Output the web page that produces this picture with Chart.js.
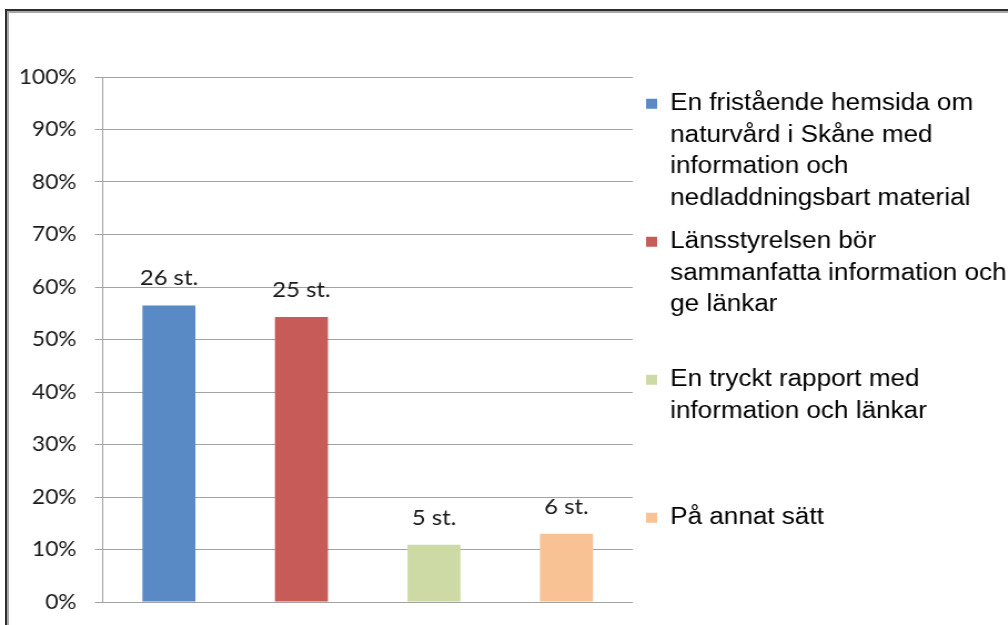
<!DOCTYPE html>
<html>
<head>
<meta charset="utf-8">
<script src="https://cdn.jsdelivr.net/npm/chart.js@4"></script>
<style>
  html, body { margin: 0; padding: 0; background: #fff; width: 1008px; height: 625px; overflow: hidden; }
  #frame {
    position: absolute; left: 5px; top: 9px; width: 1100px; height: 700px;
    border: 2px solid #2e2e2e; box-shadow: inset 2px 2px 0 #a8a8a8;
  }
  /* the original picture is a bit stretched sideways, so the chart is too */
  #wrap {
    position: absolute; left: 0; top: 0; width: 910px; height: 644px;
    transform: scaleX(1.11); transform-origin: 0 0;
  }
</style>
</head>
<body>
<div id="frame"></div>
<div id="wrap"><canvas id="svar"></canvas></div>
<script>
const categories = [
  'En fristående hemsida om naturvård i Skåne med information och nedladdningsbart material',
  'Länsstyrelsen bör sammanfatta information och ge länkar',
  'En tryckt rapport med information och länkar',
  'På annat sätt'
];
// legend text, broken the way the original wraps it
const legendLines = [
  ['En fristående hemsida om', 'naturvård i Skåne med', 'information och', 'nedladdningsbart material'],
  ['Länsstyrelsen bör', 'sammanfatta information och', 'ge länkar'],
  ['En tryckt rapport med', 'information och länkar'],
  ['På annat sätt']
];
const percentages = [56.5, 54.3, 10.9, 13.0];
const counts = [26, 25, 5, 6];
const barColors = ['#5a8ac6', '#c75b58', '#cddaa5', '#f9c294'];
const yTicks = [0, 10, 20, 30, 40, 50, 60, 70, 80, 90, 100];

const gridGrey = '#a3a3a3';

// "26 st." etc over the bars
const countLabels = {
  id: 'countLabels',
  afterDatasetsDraw(chart) {
    const ctx = chart.ctx;
    const meta = chart.getDatasetMeta(0);
    ctx.save();
    ctx.font = '21.5px Lato';
    ctx.fillStyle = '#1a1a1a';
    ctx.textAlign = 'center';
    ctx.textBaseline = 'middle';
    meta.data.forEach((bar, i) => ctx.fillText(counts[i] + ' st.', bar.x, bar.y - 27));
    ctx.restore();
  }
};

new Chart(document.getElementById('svar'), {
  type: 'bar',
  data: {
    labels: categories,
    datasets: [{
      data: percentages,
      backgroundColor: barColors,
      borderWidth: 0,
      barPercentage: 0.4,
      categoryPercentage: 1
    }]
  },
  options: {
    responsive: true,
    maintainAspectRatio: false,
    animation: false,
    layout: { padding: { top: 77, left: 0, right: 0, bottom: 0 } },
    scales: {
      x: {
        ticks: { display: false },
        grid: { display: false },
        border: { display: false },
        afterFit: s => { s.height = 42; }
      },
      y: {
        min: 0,
        max: 100,
        afterBuildTicks: s => { s.ticks = yTicks.map(v => ({ value: v })); },
        ticks: {
          callback: v => v + '%',
          font: { family: 'Lato', size: 20.5 },
          color: '#1a1a1a',
          padding: 16.5
        },
        grid: { color: gridGrey, lineWidth: 1, tickLength: 7 },
        border: { color: gridGrey, width: 1 },
        afterFit: s => { s.width = 92.5; }
      }
    },
    plugins: {
      tooltip: { enabled: false },
      legend: {
        position: 'right',
        align: 'end',
        maxWidth: 340,
        labels: {
          boxWidth: 10,
          boxHeight: 10,
          padding: 12,
          color: '#000',
          font: { family: '"Liberation Sans", Arial', size: 23.5, lineHeight: '31.5px' },
          generateLabels: () => legendLines.map((lines, i) => ({
            // every entry gets four lines so the entries sit evenly apart
            text: lines.concat(Array(4 - lines.length).fill('')),
            fillStyle: barColors[i],
            strokeStyle: barColors[i],
            lineWidth: 0,
            hidden: false,
            index: i
          }))
        }
      }
    }
  },
  plugins: [countLabels]
});
</script>
</body>
</html>
